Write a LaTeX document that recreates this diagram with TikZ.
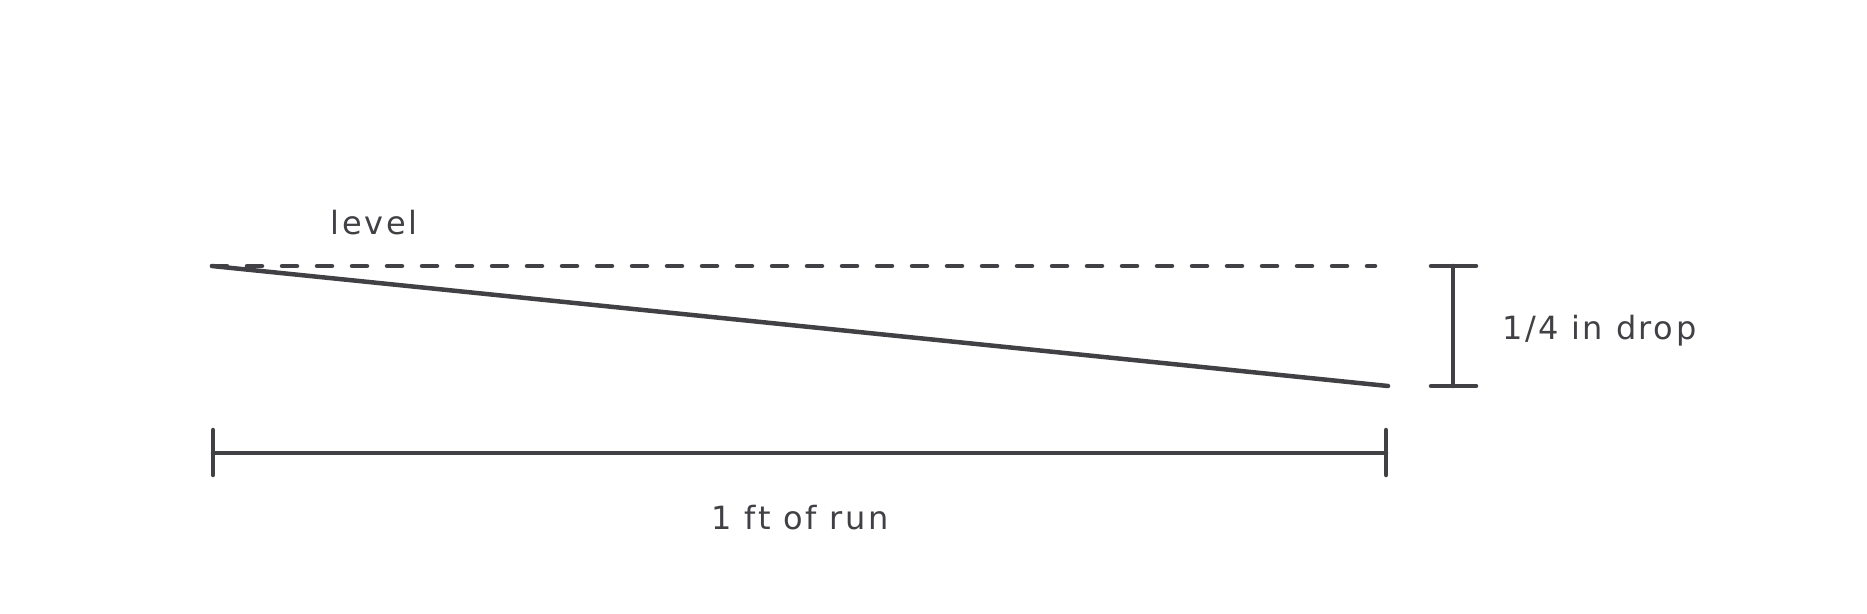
\documentclass[tikz,border=0pt]{standalone}
\usepackage{fontspec}
\setmainfont[LetterSpace=8]{DejaVu Sans}
\begin{document}
\begin{tikzpicture}[x=1pt,y=-1pt,
  ink/.style={draw=inkc,line width=4.5pt,line cap=round},
  lab/.style={text=inkc,font=\fontsize{32}{36}\selectfont,inner sep=0pt}]
\definecolor{inkc}{HTML}{414045}
\useasboundingbox (0,0) rectangle (1867,613);
\coordinate (A) at (212,266);
\coordinate (B) at (1375,266);
\coordinate (C) at (1388,386);
\coordinate (T) at (1453,266);
\coordinate (U) at (1453,386);
\coordinate (L) at (213,453);
\coordinate (R) at (1386,453);
% level dashed line
\draw[ink,dash pattern=on 15pt off 20pt] (A) -- (B);
% sloped line
\draw[ink] (A) -- (C);
% drop dimension
\draw[ink] (T) -- (U);
\draw[ink] ([xshift=-22pt]T) -- ([xshift=23pt]T);
\draw[ink] ([xshift=-22pt]U) -- ([xshift=23pt]U);
% run dimension
\draw[ink] (L) -- (R);
\draw[ink] ([yshift=-22pt]L) -- ([yshift=23pt]L);
\draw[ink] ([yshift=-22pt]R) -- ([yshift=23pt]R);
% labels
\node[lab] (lev) at (374,223) {level};
\node[lab,anchor=west] (drop) at (1502,331) {1/4 in drop};
\node[lab] (run) at (800,518) {1 ft of run};
\end{tikzpicture}
\end{document}
